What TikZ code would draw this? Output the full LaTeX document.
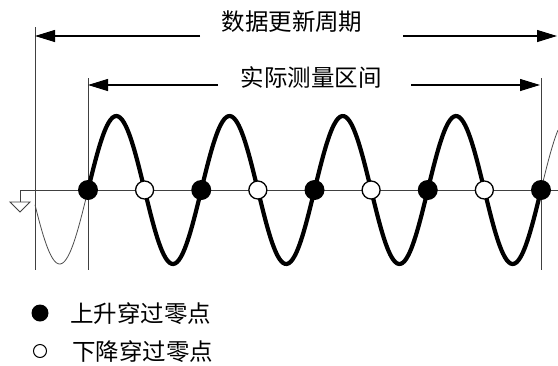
\documentclass[tikz,border=0pt]{standalone}
\usepackage{fontspec}
\setmainfont{Noto Sans CJK SC}
\usepackage{tikz}
\usetikzlibrary{arrows.meta}

\begin{document}
\begin{tikzpicture}[x=1pt, y=-1pt,
    rise/.style={circle, fill=black, inner sep=0pt, minimum size=20pt},
    fall/.style={circle, draw=black, line width=1.3pt, fill=white, inner sep=0pt, minimum size=18pt},
    dimarrow/.style={-{Triangle[length=20pt, width=12pt]}, line width=1.1pt},
    thinline/.style={line width=0.9pt, black!75},
    lbl/.style={font=\fontsize{23.5}{27}\selectfont, inner sep=0pt}
]
\useasboundingbox (0,0) rectangle (558,365);
% boundaries of the intervals
\coordinate (u0) at (35,27);   \coordinate (u1) at (35,270);
\coordinate (m0) at (88,78);   \coordinate (m1) at (88,270);
\coordinate (r0) at (541,78);  \coordinate (r1) at (541,270);
\draw[thinline] (u0) -- (u1);
\draw[thinline] (m0) -- (m1);
\draw[thinline] (r0) -- (r1);
% data update period
\node[lbl] (period) at (292,22) {数据更新周期};
\coordinate (pl) at (200,36);  \coordinate (pr) at (403,36);
\draw[dimarrow] (pl) -- (35,36);
\draw[dimarrow] (pr) -- (557,36);
% measurement interval
\node[lbl] (meas) at (311,77) {实际测量区间};
\coordinate (ml) at (218,85);  \coordinate (mr) at (411,85);
\draw[dimarrow] (ml) -- (88,85);
\draw[dimarrow] (mr) -- (540,85);
% zero axis and ground
\coordinate (g0) at (20,190);  \coordinate (g1) at (20,202);
\coordinate (ax) at (558,190);
\draw[thinline] (g0) -- (ax);
\draw[thinline] (g0) -- (g1);
\draw[thinline, fill=white] (10,202) -- (30,202) -- (20,212) -- cycle;
% signal
\draw[line width=0.8pt, black!70] plot[domain=35:88, samples=40, smooth]
    (\x, {190 - 74*sin((\x-88)/113.25*360)});
\draw[line width=0.8pt, black!70] plot[domain=541:558, samples=15, smooth]
    (\x, {190 - 74*sin((\x-541)/113.25*360)});
\draw[line width=4.2pt, line join=round] plot[domain=88:541, samples=240, smooth]
    (\x, {190 - 74*sin((\x-88)/113.25*360)});
% zero crossings
\foreach \i in {0,...,4} {
    \node[rise] (up\i) at ({88+113.25*\i},190) {};
}
\foreach \i in {0,...,3} {
    \node[fall] (dn\i) at ({144.6+113.25*\i},190) {};
}
% legend
\node[circle, fill=black, inner sep=0pt, minimum size=17pt] (k1) at (40,313) {};
\node[lbl, anchor=west] (t1) at (70,314) {上升穿过零点};
\node[circle, draw=black, line width=1pt, inner sep=0pt, minimum size=13pt] (k2) at (40,351) {};
\node[lbl, anchor=west] (t2) at (72,352) {下降穿过零点};
\end{tikzpicture}
\end{document}
